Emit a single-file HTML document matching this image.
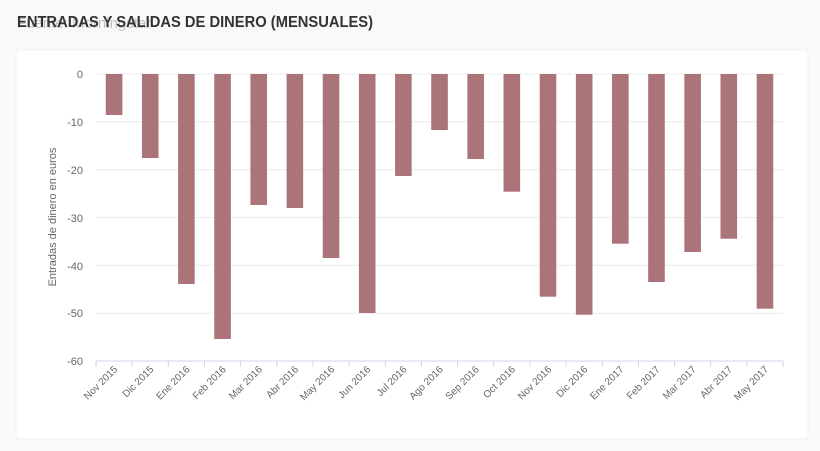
<!DOCTYPE html>
<html><head><meta charset="utf-8"><style>
html,body{margin:0;padding:0;background:#f8f9fb;}
svg{display:block;font-family:"Liberation Sans",sans-serif;}
</style></head><body>
<svg width="820" height="451" viewBox="0 0 820 451">
<rect x="0" y="0" width="820" height="451" fill="#f8f9fb"/>
<rect x="16" y="50" width="792" height="389" rx="3" fill="#fff" stroke="#eef0f3"/>
<text x="17" y="28" font-size="15" fill="#aaa" opacity="0.7">Fuente: Morningstar</text>
<text x="17" y="27" font-size="16" font-weight="bold" fill="#333" textLength="356" lengthAdjust="spacingAndGlyphs">ENTRADAS Y SALIDAS DE DINERO (MENSUALES)</text>
<g stroke="#ececec" stroke-width="1">
<line x1="96" x2="783" y1="74" y2="74"/><line x1="96" x2="783" y1="121.8" y2="121.8"/>
<line x1="96" x2="783" y1="169.7" y2="169.7"/><line x1="96" x2="783" y1="217.5" y2="217.5"/>
<line x1="96" x2="783" y1="265.3" y2="265.3"/><line x1="96" x2="783" y1="313.2" y2="313.2"/>
</g>
<line x1="96" x2="783" y1="361" y2="361" stroke="#ccd6eb"/>
<g font-size="11" fill="#666" text-anchor="end">
<text x="83" y="78">0</text><text x="83" y="126">-10</text><text x="83" y="174">-20</text>
<text x="83" y="222">-30</text><text x="83" y="270">-40</text><text x="83" y="317">-50</text><text x="83" y="365">-60</text>
</g>
<text transform="translate(56,217) rotate(-90)" font-size="11" fill="#666" text-anchor="middle">Entradas de dinero en euros</text>
<g id="bars" fill="#ab7479"></g>
<g id="ticks" stroke="#ccd6eb"></g>
<g id="labels" font-size="10" fill="#666" text-anchor="end"></g>
<script>
var b=[115,158,284,339,205,208,258,313,176,130,159,191.7,296.7,314.7,243.7,282,252,238.7,308.7];
var l=["Nov 2015","Dic 2015","Ene 2016","Feb 2016","Mar 2016","Abr 2016","May 2016","Jun 2016","Jul 2016","Ago 2016","Sep 2016","Oct 2016","Nov 2016","Dic 2016","Ene 2017","Feb 2017","Mar 2017","Abr 2017","May 2017"];
var ns="http://www.w3.org/2000/svg",w=36.16;
for(var i=0;i<19;i++){var c=96+w*(i+0.5);
var r=document.createElementNS(ns,"rect");r.setAttribute("x",c-8.3);r.setAttribute("y",74);r.setAttribute("width",16.6);r.setAttribute("height",b[i]-74);document.getElementById("bars").appendChild(r);
var t=document.createElementNS(ns,"text");t.setAttribute("transform","translate("+(c+4)+",370) rotate(-45)");t.textContent=l[i];document.getElementById("labels").appendChild(t);}
for(var i=0;i<=19;i++){var x=96+w*i;var ln=document.createElementNS(ns,"line");ln.setAttribute("x1",x);ln.setAttribute("x2",x);ln.setAttribute("y1",361);ln.setAttribute("y2",367);document.getElementById("ticks").appendChild(ln);}
</script>
</svg>
</body></html>
